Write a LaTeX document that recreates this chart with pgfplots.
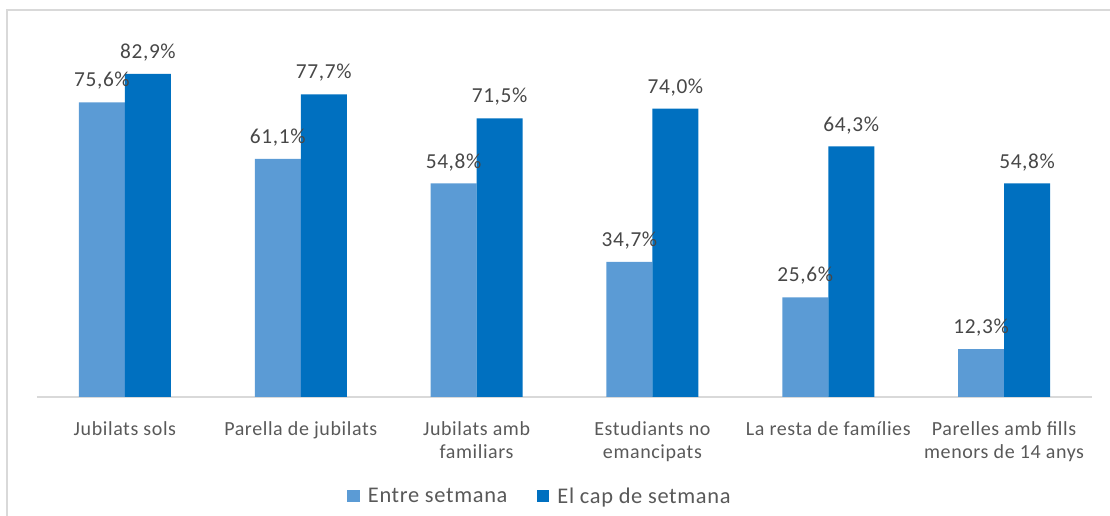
\documentclass[border=0pt]{standalone}
\usepackage{pgfplots}
\pgfplotsset{compat=1.18}
\usepackage{fontspec}
\setmainfont{Carlito}[LetterSpace=3]

\definecolor{entre}{HTML}{5B9BD5}
\definecolor{cap}{HTML}{0070C0}
\definecolor{txt}{HTML}{595959}
\definecolor{gridgray}{HTML}{D9D9D9}

\begin{document}
\begin{tikzpicture}
\begin{axis}[
    name=ax,
    at={(0,0)}, anchor=south west,
    scale only axis,
    width=791.25pt, height=263pt,
    ybar=0pt,
    bar width=34.5pt,
    xmin=-0.5, xmax=5.5,
    ymin=0, ymax=90,
    axis y line=none,
    axis x line*=bottom,
    x axis line style={gridgray, line width=1pt},
    xtick={0,1,2,3,4,5},
    xticklabels={Jubilats sols, Parella de jubilats, {Jubilats amb\\familiars}, {Estudiants no\\emancipats}, La resta de famílies, {Parelles amb fills\\menors de 14 anys}},
    xticklabel style={align=center, text=txt, font=\fontsize{15}{17.5}\selectfont, anchor=north, yshift=-15pt},
    major tick length=0pt,
    /pgf/number format/assume math mode=true,
    nodes near coords={\pgfmathprintnumber[fixed, fixed zerofill, precision=1, use comma]{\pgfplotspointmeta}\%},
    nodes near coords style={text=txt!80!black, font=\fontsize{16}{18}\selectfont, yshift=6pt},
    legend style={draw=none, at={(0.477,-0.283)}, anchor=center, legend columns=2,
        font=\fontsize{16.8}{18}\selectfont, text=txt,
        /tikz/every even column/.append style={column sep=20pt}},
    legend image code/.code={\fill[#1] (0pt,-4.5pt) rectangle (9.5pt,5pt); \path (13.5pt,0pt);},
]
\addplot[fill=entre, draw=none] coordinates {(0,75.6) (1,61.1) (2,54.8) (3,34.7) (4,25.6) (5,12.3)};
\addplot[fill=cap, draw=none] coordinates {(0,82.9) (1,77.7) (2,71.5) (3,74.0) (4,64.3) (5,54.8)};
\legend{Entre setmana, El cap de setmana}
\end{axis}
\pgfresetboundingbox
\path ([shift={(-27.75pt,-89.25pt)}]ax.south west) rectangle ++(832.5pt,387pt);
\draw[overlay, gridgray, line width=1pt] ([shift={(-22.5pt,-120pt)}]ax.south west) -- ([shift={(-22.5pt,290.25pt)}]ax.south west) -- ++(900pt,0);
\end{tikzpicture}
\end{document}
